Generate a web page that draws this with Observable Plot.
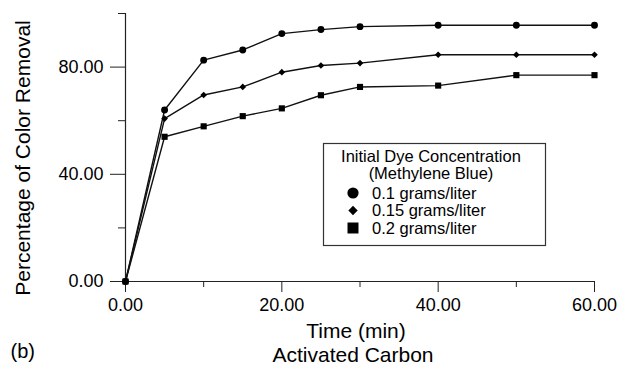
<!DOCTYPE html>
<html><head><meta charset="utf-8">
<script src="https://cdn.jsdelivr.net/npm/d3@7"></script>
<script src="https://cdn.jsdelivr.net/npm/@observablehq/plot@0.6"></script>
<style>body{margin:0;background:#fff;font-family:"Liberation Sans",Arial,sans-serif}</style>
</head><body><div id="chart"></div>
<script>
const time = [0, 5, 10, 15, 20, 25, 30, 40, 50, 60];
const series = ["0.1 grams/liter", "0.15 grams/liter", "0.2 grams/liter"];
const symbols = ["circle", "diamond2", "square"];
const sizes = [4.4, 3.3, 4.4];
const legendSizes = [5.6, 4.2, 6.2];
const c01 = [0, 64.0, 82.6, 86.4, 92.5, 94.0, 95.1, 95.6, 95.6, 95.6];
const c015 = [0, 60.8, 69.6, 72.6, 78.1, 80.6, 81.5, 84.6, 84.6, 84.6];
const c02 = [0, 54.0, 57.9, 61.7, 64.6, 69.5, 72.6, 73.1, 77.0, 77.0];
const values = [c01, c015, c02];
const xMajor = [0, 20, 40, 60], xMinor = [10, 30, 50];
const yMajor = [0, 40, 80], yMinor = [20, 60, 100];
const legendTitle = ["Initial Dye Concentration", "(Methylene Blue)"];

const data = series.flatMap((s, i) => time.map((t, j) => ({series: s, t, v: values[i][j], r: sizes[i]})));
const fmt = d3.format(".2f");
const FONT = "'Liberation Sans', Arial, sans-serif";

const plot = Plot.plot({
  width: 621, height: 372,
  marginLeft: 125, marginRight: 27, marginTop: 13, marginBottom: 91,
  style: {fontFamily: FONT, background: "#fff", color: "#000"},
  x: {domain: [0, 60]},
  y: {domain: [0, 100]},
  symbol: {domain: series, range: symbols},
  marks: [
    Plot.ruleY([0], {x1: 0, x2: 60, stroke: "#222", strokeWidth: 1.2}),
    Plot.ruleX([0], {y1: 0, y2: 100, stroke: "#222", strokeWidth: 1.2}),
    Plot.axisX({ticks: xMajor, tickSize: 11, tickPadding: 6, tickFormat: fmt, fontSize: 18, stroke: "#222", label: null}),
    Plot.axisX({ticks: xMinor, tickSize: 6, tickFormat: () => "", stroke: "#222", label: null}),
    Plot.axisY({ticks: yMajor, tickSize: 15, tickPadding: 7, tickFormat: fmt, fontSize: 18, stroke: "#222", label: null}),
    Plot.axisY({ticks: yMinor, tickSize: 7, tickFormat: () => "", stroke: "#222", label: null}),
    Plot.line(data, {x: "t", y: "v", z: "series", curve: "linear", stroke: "#111", strokeWidth: 1.4}),
    Plot.dot(data, {x: "t", y: "v", symbol: "series", r: "r", fill: "#000", stroke: "none"}),
    Plot.text(["Time (min)"], {frameAnchor: "bottom", dx: -4, dy: 56, fontSize: 21, fill: "#000"}),
    Plot.text(["Activated Carbon"], {frameAnchor: "bottom", dx: -7, dy: 80, fontSize: 21, fill: "#000"}),
    Plot.text(["(b)"], {frameAnchor: "bottom-left", dx: -115, dy: 76, fontSize: 20, textAnchor: "start", fill: "#000"})
  ]
});
document.getElementById("chart").appendChild(plot);

const svg = d3.select(plot);
// y-axis title
svg.append("text").attr("transform", "translate(23,158) rotate(-90)").attr("dy", "0.35em")
  .attr("text-anchor", "middle").attr("font-family", FONT).attr("font-size", 21).attr("fill", "#000")
  .text("Percentage of Color Removal");

// legend box
const g = svg.append("g").attr("font-family", FONT);
g.append("rect").attr("x", 323.5).attr("y", 143.5).attr("width", 222).attr("height", 102)
  .attr("fill", "#fff").attr("stroke", "#333").attr("stroke-width", 1.2);
legendTitle.forEach((t, i) => {
  g.append("text").attr("x", 431).attr("y", 156 + i * 17.5).attr("dy", "0.35em")
    .attr("text-anchor", "middle").attr("font-size", 16.5).attr("fill", "#000").text(t);
});
series.forEach((s, i) => {
  const y = 193 + i * 17.5;
  const sym = {circle: d3.symbolCircle, diamond2: d3.symbolDiamond2, square: d3.symbolSquare}[symbols[i]];
  g.append("path").attr("transform", `translate(353,${y})`)
    .attr("d", d3.symbol(sym, Math.PI * legendSizes[i] ** 2)()).attr("fill", "#000");
  g.append("text").attr("x", 372).attr("y", y).attr("dy", "0.35em").attr("text-anchor", "start")
    .attr("font-size", 16.5).attr("fill", "#000").text(s);
});
</script></body></html>
